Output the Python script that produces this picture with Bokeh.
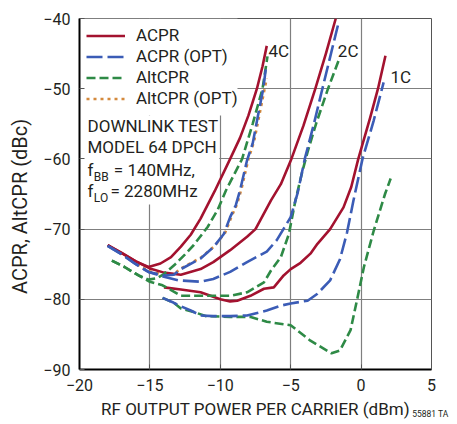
import math
from bokeh.plotting import figure
from bokeh.models import Range1d, FixedTicker, Legend, LegendItem, Label, BoxAnnotation, Title
from bokeh.embed import file_html
from bokeh.resources import INLINE

# ---------------- data ----------------
x_ticks = [-20, -15, -10, -5, 0, 5]
x_tick_labels = ["\u221220", "\u221215", "\u221210", "\u22125", "0", "5"]
y_ticks = [-90, -80, -70, -60, -50, -40]
y_tick_labels = ["\u221290", "\u221280", "\u221270", "\u221260", "\u221250", "\u221240"]

series_names = ["ACPR", "ACPR (OPT)", "AltCPR", "AltCPR (OPT)"]
curve_labels = ["4C", "2C", "1C"]

# 4 carriers
acpr_4c_x = [-18.0, -17.1, -16.0, -15.1, -14.25, -13.5, -12.8, -12.1, -11.4, -10.4, -9.3, -8.6, -8.0, -7.4, -7.0, -6.7]
acpr_4c_y = [-72.3, -73.3, -74.6, -75.4, -74.9, -74.0, -72.5, -70.8, -68.5, -64.6, -60.0, -57.0, -53.8, -50.0, -46.8, -43.9]
acpr_opt_4c_x = [-18.0, -17.0, -16.0, -15.1, -14.0, -13.3, -12.8, -11.4, -10.5, -9.75, -9.3, -8.9, -8.6, -8.1, -7.7, -7.35, -6.95, -6.75]
acpr_opt_4c_y = [-72.4, -73.6, -75.0, -76.1, -76.6, -76.5, -75.7, -74.2, -72.6, -70.7, -68.3, -66.6, -64.5, -60.2, -57.8, -54.1, -50.0, -46.9]
alt_4c_x = [-17.7, -16.8, -15.8, -15.1, -14.5, -14.0, -13.2, -12.5, -11.9, -10.9, -10.2, -9.6, -8.45, -7.7, -7.0, -6.65]
alt_4c_y = [-74.5, -75.4, -76.6, -77.2, -77.0, -76.4, -75.0, -73.6, -72.3, -69.7, -67.3, -64.5, -60.0, -55.0, -50.0, -45.4]
alt_opt_4c_x = [-18.0, -17.0, -16.0, -15.1, -14.0, -13.3, -12.8, -11.4, -10.4, -9.65, -9.2, -8.8, -8.5, -8.0, -7.6, -7.25, -6.85, -6.7]
alt_opt_4c_y = [-72.3, -73.5, -74.9, -76.0, -76.5, -76.4, -75.6, -74.1, -72.4, -70.5, -68.2, -66.4, -64.3, -60.0, -57.5, -54.0, -50.0, -48.5]

# 2 carriers
acpr_2c_x = [-18.0, -17.0, -16.0, -15.0, -14.0, -12.8, -11.4, -10.5, -9.3, -8.1, -7.5, -6.4, -5.7, -4.95, -4.1, -3.25, -2.5, -1.8]
acpr_2c_y = [-72.3, -73.4, -74.6, -75.6, -76.2, -76.5, -75.7, -74.7, -73.0, -71.1, -70.0, -65.9, -63.6, -60.0, -55.3, -50.0, -45.0, -40.0]
acpr_opt_2c_x = [-18.0, -17.0, -16.0, -15.1, -14.0, -13.0, -11.4, -10.5, -9.3, -8.1, -6.7, -6.0, -5.0, -4.5, -4.0, -3.35, -2.75, -2.2, -1.65]
acpr_opt_2c_y = [-72.4, -73.6, -75.0, -76.1, -76.8, -77.3, -77.5, -77.1, -76.1, -74.7, -73.2, -71.6, -68.3, -64.8, -60.0, -55.0, -50.0, -45.5, -41.0]
alt_2c_x = [-17.7, -16.8, -15.8, -15.0, -14.1, -12.8, -11.4, -9.3, -8.1, -6.9, -6.4, -5.7, -5.13, -4.66, -4.2, -3.8, -3.2, -2.35, -1.6]
alt_2c_y = [-74.5, -75.4, -76.6, -77.5, -78.0, -79.5, -79.5, -79.5, -79.0, -77.6, -75.9, -74.0, -70.7, -65.9, -62.0, -59.0, -55.0, -50.0, -46.0]

# 1 carrier
acpr_1c_x = [-14.0, -12.8, -11.4, -10.0, -9.3, -8.8, -7.86, -6.9, -6.2, -5.5, -5.0, -4.3, -3.6, -3.1, -2.2, -1.25, -0.7, -0.2, 0.65, 1.2, 1.73]
acpr_1c_y = [-78.3, -78.6, -79.0, -80.0, -80.3, -80.2, -79.5, -78.5, -78.3, -76.6, -75.7, -74.8, -73.5, -72.1, -70.0, -66.9, -64.0, -60.0, -54.1, -50.0, -45.3]
acpr_opt_1c_x = [-14.1, -13.3, -12.8, -12.1, -11.4, -10.5, -9.3, -8.1, -6.7, -5.7, -5.0, -3.8, -3.1, -2.2, -1.5, -1.0, -0.55, 0.1, 0.9, 1.6]
acpr_opt_1c_y = [-79.8, -80.5, -81.0, -81.6, -82.3, -82.4, -82.4, -82.3, -81.6, -80.9, -80.6, -80.2, -79.2, -77.3, -74.3, -70.5, -66.0, -60.0, -54.5, -49.1]
alt_1c_x = [-14.1, -13.3, -12.8, -11.9, -11.0, -9.3, -7.9, -6.7, -5.0, -3.6, -2.1, -1.5, -0.75, -0.3, 0.2, 0.9, 1.7, 2.1]
alt_1c_y = [-79.8, -80.5, -81.3, -81.8, -82.4, -82.5, -82.5, -83.2, -83.7, -85.9, -87.7, -87.3, -84.4, -80.2, -75.4, -70.2, -65.0, -62.8]

# ---------------- styling ----------------
RED = "#a3122f"
BLUE = "#3b5cb6"
GREEN = "#2e8a46"
ORANGE = "#d4893c"
TXT = "#231f20"
FONT = "Roboto"

p = figure(frame_width=352, frame_height=351,
           x_range=Range1d(-20, 5), y_range=Range1d(-90, -40),
           output_backend="svg", toolbar_location=None,
           min_border_left=79, min_border_top=18, min_border_right=18, min_border_bottom=40)
p.background_fill_color = "white"
p.border_fill_color = "white"
p.outline_line_color = "#555555"
p.outline_line_width = 1

p.xaxis.ticker = FixedTicker(ticks=x_ticks)
p.yaxis.ticker = FixedTicker(ticks=y_ticks)
p.xgrid.ticker = FixedTicker(ticks=x_ticks)
p.ygrid.ticker = FixedTicker(ticks=y_ticks)
p.xaxis.major_label_overrides = {t: l for t, l in zip(x_ticks, x_tick_labels)}
p.yaxis.major_label_overrides = {t: l for t, l in zip(y_ticks, y_tick_labels)}
for ax in (p.xaxis, p.yaxis):
    ax.axis_line_width = 2
    ax.axis_line_color = "black"
    ax.major_tick_in = 5
    ax.major_tick_out = 0
    ax.major_tick_line_color = "#555555"
    ax.minor_tick_line_color = None
    ax.major_label_text_font = FONT
    ax.major_label_text_font_size = "16px"
    ax.major_label_text_color = TXT
    ax.axis_label_text_font = FONT
    ax.axis_label_text_font_size = "17px"
    ax.axis_label_text_font_style = "normal"
    ax.axis_label_text_color = TXT
p.xaxis.major_label_standoff = 9
p.yaxis.major_label_standoff = 9
p.xaxis.axis_label = "RF OUTPUT POWER PER CARRIER (dBm)"
p.xaxis.axis_label_standoff = 5
p.yaxis.axis_label = "ACPR, AltCPR (dBc)" + "\u00a0" * 5
p.yaxis.axis_label_text_font_size = "20px"
p.yaxis.axis_label_standoff = 8
for g in (p.xgrid, p.ygrid):
    g.grid_line_color = "#7f7f7f"
    g.grid_line_width = 1.2

# figure id next to the x-axis title
p.add_layout(Title(text="55881 TA", align="right", vertical_align="top", text_font=FONT,
                   text_font_size="8.5px", text_font_style="normal", text_color=TXT,
                   standoff=-26, offset=-17), "below")

# white panels that hide the grid behind legend and note
p.add_layout(BoxAnnotation(left=-20, right=-8.78, top=-40, bottom=-53.8, fill_color="white",
                           fill_alpha=1, line_alpha=0, level="underlay"))
p.add_layout(BoxAnnotation(left=-20, right=-10.08, top=-53.8, bottom=-66.5, fill_color="white",
                           fill_alpha=1, line_alpha=0, level="underlay"))

LW = 2.6
def draw(xs, ys, kind):
    if kind == 0:
        return p.line(xs, ys, line_color=RED, line_width=LW, line_join="round")
    if kind == 1:
        return p.line(xs, ys, line_color=BLUE, line_width=LW, line_dash="16 5")
    if kind == 2:
        return p.line(xs, ys, line_color=GREEN, line_width=LW, line_dash="9 4")
    return p.line(xs, ys, line_color=ORANGE, line_width=2.6, line_dash="3 4")

r_alt_opt = draw(alt_opt_4c_x, alt_opt_4c_y, 3)
r_acpr = draw(acpr_4c_x, acpr_4c_y, 0)
draw(acpr_2c_x, acpr_2c_y, 0)
draw(acpr_1c_x, acpr_1c_y, 0)
r_alt = draw(alt_4c_x, alt_4c_y, 2)
draw(alt_2c_x, alt_2c_y, 2)
draw(alt_1c_x, alt_1c_y, 2)
r_opt = draw(acpr_opt_4c_x, acpr_opt_4c_y, 1)
draw(acpr_opt_2c_x, acpr_opt_2c_y, 1)
draw(acpr_opt_1c_x, acpr_opt_1c_y, 1)

legend = Legend(items=[LegendItem(label=series_names[0], renderers=[r_acpr]),
                       LegendItem(label=series_names[1], renderers=[r_opt]),
                       LegendItem(label=series_names[2], renderers=[r_alt]),
                       LegendItem(label=series_names[3], renderers=[r_alt_opt])],
                location="top_left", margin=0, padding=7, spacing=1,
                glyph_width=39, glyph_height=17, label_height=17, label_standoff=11,
                label_text_font=FONT, label_text_font_size="17px", label_text_color=TXT,
                background_fill_alpha=0, border_line_alpha=0)
p.add_layout(legend)

def lbl(x, y, text, size="17px", **kw):
    p.add_layout(Label(x=x, y=y, text=text, text_font=FONT, text_font_size=size,
                       text_color=TXT, text_baseline="middle", **kw))

# note box
lbl(-19.43, -55.34, "DOWNLINK TEST")
lbl(-19.43, -58.33, "MODEL 64 DPCH")
lbl(-19.43, -61.65, "f")
lbl(-18.98, -62.6, "BB", size="12px")
lbl(-17.56, -61.65, "= 140MHz,")
lbl(-19.43, -64.57, "f")
lbl(-18.98, -65.64, "LO", size="12px")
lbl(-17.8, -64.57, "= 2280MHz")

# curve group labels
lbl(-6.58, -44.56, curve_labels[0])
lbl(-1.65, -44.56, curve_labels[1])
lbl(2.09, -48.36, curve_labels[2])

open("out.html", "w").write(file_html(p, INLINE))
